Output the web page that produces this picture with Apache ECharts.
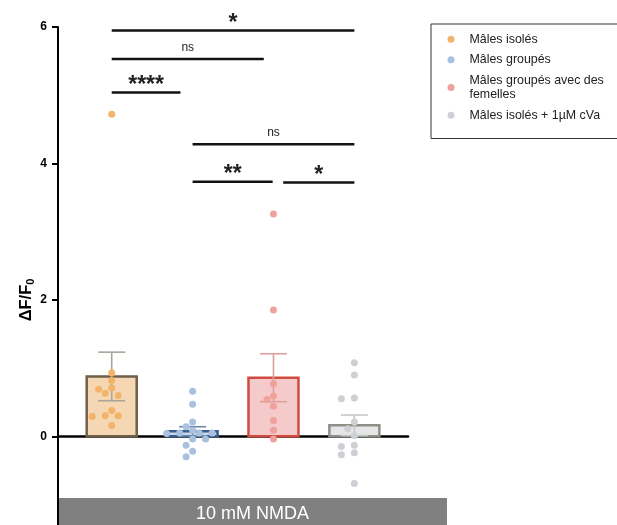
<!DOCTYPE html>
<html>
<head>
<meta charset="utf-8">
<script src="https://cdn.jsdelivr.net/npm/echarts@6/dist/echarts.min.js"></script>
<style>
html,body{margin:0;padding:0;background:#fff;}
#c{width:617px;height:525px;}
</style>
</head>
<body>
<div id="c"></div>
<script>
// ---------- data ----------
const groupNames = ['Mâles isolés', 'Mâles groupés', 'Mâles groupés avec des femelles', 'Mâles isolés + 1µM cVa'];
const malesIsoles = [4.72, 0.93, 0.82, 0.71, 0.69, 0.63, 0.60, 0.38, 0.30, 0.30, 0.29, 0.16];
const malesGroupes = [0.66, 0.47, 0.21, 0.14, 0.09, 0.05, 0.05, 0.05, 0.04, -0.04, -0.04, -0.13, -0.22, -0.30];
const malesGroupesFemelles = [3.26, 1.85, 0.77, 0.59, 0.54, 0.44, 0.23, 0.09, -0.04];
const malesIsolesCva = [1.08, 0.90, 0.56, 0.55, 0.21, 0.11, 0.01, -0.13, -0.15, -0.24, -0.27, -0.69];
const yTickValues = [0, 2, 4, 6];
// significance brackets: [from x, to x, level, label]
const brackets = [
  [1.00, 4.00, 5.95, '*'],
  [1.00, 2.88, 5.53, 'ns'],
  [1.00, 1.85, 5.04, '****'],
  [2.00, 4.00, 4.28, 'ns'],
  [2.00, 2.99, 3.73, '**'],
  [3.12, 4.00, 3.72, '*']
];
const conditionLabel = '10 mM NMDA';

// ---------- styles ----------
const dotColors = ['#f2b46a', '#a9c1df', '#f0a19c', '#cdd1d5'];
const barFills = ['#f6d7b3', '#c9d7ea', '#f5caca', '#e4e6e8'];
const barStrokes = ['#6f604a', '#3a5f8c', '#d24b40', '#8f8f88'];
const errColors = ['#aaa49a', '#6a86aa', '#d9a09c', '#c8c8c4'];

const groups = [malesIsoles, malesGroupes, malesGroupesFemelles, malesIsolesCva];

// layout
const gridLeft = 58, gridTop = 27, gridWidth = 350, gridHeight = 498;
const xMin = 0.336, xMax = 4.663, yMin = -1.3, yMax = 6;
const kx = gridWidth / (xMax - xMin);
const ky = gridHeight / (yMax - yMin);

function mean(a) { return a.reduce((s, v) => s + v, 0) / a.length; }
function sem(a) {
  const m = mean(a);
  const v = a.reduce((s, x) => s + (x - m) * (x - m), 0) / (a.length - 1);
  return Math.sqrt(v) / Math.sqrt(a.length);
}
function swarm(values, center) {
  const step = 6.5, d = 7;
  const placed = [];
  values.forEach(v => {
    const py = v * ky;
    for (let k = 0; k < 40; k++) {
      const n = Math.ceil(k / 2);
      const dx = (k === 0 ? 0 : (k % 2 ? -n : n)) * step;
      const ok = placed.every(p => (p.dx - dx) ** 2 + (p.py - py) ** 2 >= d * d);
      if (ok) { placed.push({dx, py, v}); break; }
    }
  });
  return placed.map(p => [center + p.dx / kx, p.v]);
}

const barData = groups.map((g, i) => [i + 1, mean(g)]);
const errData = groups.map((g, i) => [i + 1, mean(g), sem(g)]);

const chart = echarts.init(document.getElementById('c'), null, {renderer: 'canvas'});
const font = '"Liberation Sans", Arial, Helvetica, sans-serif';

const series = [];
series.push({
  type: 'custom', name: 'bars', z: 2, clip: false,
  data: barData,
  renderItem: function (params, api) {
    const i = params.dataIndex;
    const p1 = api.coord([api.value(0), api.value(1)]);
    const p0 = api.coord([api.value(0), 0]);
    return {
      type: 'rect',
      shape: {x: p1[0] - 25, y: Math.min(p1[1], p0[1]), width: 50, height: Math.abs(p0[1] - p1[1])},
      style: {fill: barFills[i], stroke: barStrokes[i], lineWidth: 2.5}
    };
  }
});
series.push({
  type: 'custom', name: 'err', z: 3, clip: false,
  data: errData,
  renderItem: function (params, api) {
    const i = params.dataIndex;
    const x = api.value(0), m = api.value(1), s = api.value(2);
    const top = api.coord([x, m + s]);
    const bot = api.coord([x, m - s]);
    const st = {stroke: errColors[i], lineWidth: 1.6};
    return {
      type: 'group',
      children: [
        {type: 'line', shape: {x1: top[0], y1: top[1], x2: bot[0], y2: bot[1]}, style: st},
        {type: 'line', shape: {x1: top[0] - 13.5, y1: top[1], x2: top[0] + 13.5, y2: top[1]}, style: st},
        {type: 'line', shape: {x1: bot[0] - 13.5, y1: bot[1], x2: bot[0] + 13.5, y2: bot[1]}, style: st}
      ]
    };
  }
});
groups.forEach((g, i) => {
  series.push({
    type: 'scatter', name: groupNames[i], z: 4,
    data: swarm(g, i + 1),
    symbol: 'circle', symbolSize: 7,
    itemStyle: {color: dotColors[i], opacity: 1},
    emphasis: {disabled: true}
  });
});
series.push({
  type: 'custom', name: 'brackets', z: 5, clip: false,
  data: brackets,
  renderItem: function (params, api) {
    const b = brackets[params.dataIndex];
    const a = api.coord([b[0], b[2]]);
    const c = api.coord([b[1], b[2]]);
    const isNs = b[3] === 'ns';
    return {
      type: 'group',
      children: [
        {type: 'line', shape: {x1: a[0], y1: a[1], x2: c[0], y2: c[1]}, style: {stroke: '#111', lineWidth: 2.5}},
        {type: 'text', x: (a[0] + c[0]) / 2, y: a[1] - (isNs ? 11.5 : 7),
          style: {text: b[3], fill: '#222', align: 'center', verticalAlign: 'middle',
            font: (isNs ? 'normal 12px ' : 'bold 23px ') + font}}
      ]
    };
  }
});

chart.setOption({
  animation: false,
  backgroundColor: '#fff',
  textStyle: {fontFamily: font},
  grid: {left: gridLeft, top: gridTop, width: gridWidth, height: gridHeight, containLabel: false},
  xAxis: {
    type: 'value', min: xMin, max: xMax,
    axisLine: {show: true, onZero: true, lineStyle: {color: '#000', width: 2.5}},
    axisTick: {show: false}, axisLabel: {show: false}, splitLine: {show: false}
  },
  yAxis: {
    type: 'value', min: yMin, max: yMax,
    axisLine: {show: true, onZero: false, lineStyle: {color: '#000', width: 2}},
    axisTick: {show: true, length: 6, customValues: yTickValues, lineStyle: {color: '#000', width: 2}},
    axisLabel: {
      color: '#000', fontWeight: 'bold', fontSize: 12, margin: 11, fontFamily: font,
      customValues: yTickValues
    },
    splitLine: {show: false},
    name: '{a|ΔF/F}{b|0}',
    nameLocation: 'middle', nameGap: 22, nameRotate: 90, nameMoveOverlap: false,
    nameTextStyle: {
      padding: [0, 48, 0, 0],
      rich: {
        a: {fontSize: 16.5, fontWeight: 'bold', color: '#000', fontFamily: font, lineHeight: 19},
        b: {fontSize: 11, fontWeight: 'bold', color: '#000', fontFamily: font, lineHeight: 12, verticalAlign: 'bottom'}
      }
    }
  },
  legend: {
    left: 431, top: 24, orient: 'vertical',
    data: groupNames,
    icon: 'circle', itemWidth: 27, itemHeight: 7, itemGap: 6,
    padding: [8, 14, 16, 16.5],
    borderColor: '#333', borderWidth: 1,
    selectedMode: false,
    textStyle: {fontSize: 12.4, color: '#222', fontFamily: font, lineHeight: 14.5},
    formatter: n => n.replace(' avec des ', ' avec des\n')
  },
  graphic: [
    {type: 'rect', left: 59, top: 498, z: 0, shape: {width: 388, height: 30}, style: {fill: '#808080'}},
    {type: 'text', x: 252.5, y: 514, z: 1, style: {text: conditionLabel, fill: '#fff', font: 'normal 18px ' + font, align: 'center', verticalAlign: 'middle'}}
  ],
  series: series
});
</script>
</body>
</html>
